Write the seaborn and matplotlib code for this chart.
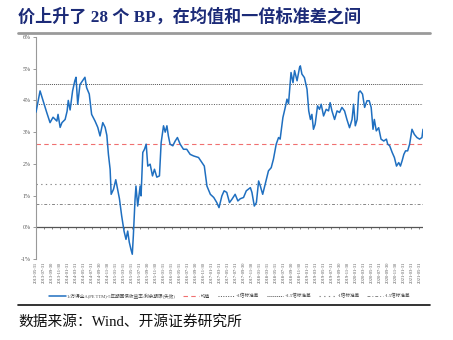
import matplotlib
matplotlib.use("Agg")
import matplotlib.pyplot as plt
import seaborn as sns
import pandas as pd

# ---------------- data ----------------
dates = [
    "2013-05-31", "2013-07-01", "2013-07-23", "2013-08-20", "2013-09-15", "2013-10-08", "2013-11-06", "2013-11-15",
    "2013-12-01", "2013-12-15", "2014-01-08", "2014-01-23", "2014-02-01", "2014-02-15", "2014-03-06", "2014-03-23",
    "2014-04-01", "2014-04-14", "2014-05-01", "2014-05-21", "2014-06-08", "2014-06-21", "2014-07-11", "2014-07-29",
    "2014-08-24", "2014-09-14", "2014-10-01", "2014-10-22", "2014-11-09", "2014-11-22", "2014-12-04", "2014-12-17",
    "2014-12-25", "2015-01-12", "2015-01-29", "2015-02-12", "2015-02-26", "2015-03-15", "2015-04-02", "2015-04-17",
    "2015-04-30", "2015-05-12", "2015-05-25", "2015-06-04", "2015-06-12", "2015-06-25", "2015-07-02", "2015-07-15",
    "2015-08-03", "2015-08-10", "2015-08-23", "2015-09-05", "2015-09-18", "2015-09-30", "2015-10-18", "2015-11-05",
    "2015-11-20", "2015-12-08", "2015-12-28", "2016-01-10", "2016-01-28", "2016-02-10", "2016-02-23", "2016-03-05",
    "2016-03-18", "2016-04-08", "2016-04-26", "2016-05-13", "2016-06-03", "2016-06-28", "2016-07-23", "2016-08-18",
    "2016-09-13", "2016-10-21", "2016-11-16", "2016-12-04", "2016-12-24", "2017-01-19", "2017-02-14", "2017-03-09",
    "2017-03-26", "2017-04-17", "2017-05-04", "2017-05-24", "2017-06-14", "2017-07-02", "2017-07-27", "2017-08-17",
    "2017-09-04", "2017-09-29", "2017-10-20", "2017-11-20", "2017-12-02", "2017-12-20", "2018-01-05", "2018-01-22",
    "2018-02-04", "2018-02-22", "2018-03-13", "2018-04-07", "2018-04-28", "2018-05-15", "2018-06-05", "2018-06-23",
    "2018-07-05", "2018-07-26", "2018-08-13", "2018-08-26", "2018-09-07", "2018-09-26", "2018-10-11", "2018-10-23",
    "2018-11-11", "2018-11-30", "2018-12-06", "2018-12-18", "2019-01-06", "2019-01-26", "2019-02-08", "2019-02-21",
    "2019-03-04", "2019-03-16", "2019-03-29", "2019-04-16", "2019-05-01", "2019-05-14", "2019-06-01", "2019-06-21",
    "2019-07-09", "2019-07-21", "2019-08-04", "2019-08-24", "2019-09-12", "2019-10-01", "2019-10-19", "2019-11-08",
    "2019-11-26", "2019-12-16", "2020-01-04", "2020-01-16", "2020-01-29", "2020-02-12", "2020-02-24", "2020-03-06",
    "2020-03-24", "2020-04-09", "2020-04-27", "2020-05-14", "2020-05-29", "2020-06-12", "2020-06-22", "2020-07-07",
    "2020-07-25", "2020-08-12", "2020-09-02", "2020-09-22", "2020-10-02", "2020-10-17", "2020-11-05", "2020-11-22",
    "2020-12-08", "2020-12-25", "2021-01-07", "2021-01-20", "2021-02-02", "2021-02-15", "2021-03-03", "2021-03-18",
    "2021-04-05", "2021-04-23", "2021-05-13", "2021-06-02", "2021-06-20", "2021-06-28",
]
erp = [
    3.63, 4.30, 4.00, 3.63, 3.30, 3.47, 3.35, 3.56,
    3.15, 3.30, 3.40, 3.66, 4.00, 3.70, 4.30, 4.62,
    4.73, 3.88, 4.50, 4.62, 4.73, 4.40, 4.20, 3.56,
    3.35, 3.15, 2.88, 3.30, 3.15, 2.90, 2.30, 1.83,
    1.04, 1.20, 1.50, 1.20, 0.90, 0.36, -0.12, -0.38,
    -0.12, -0.47, -0.70, -0.85, -0.27, 0.88, 1.30, 0.67,
    1.30, 0.99, 2.36, 2.46, 2.62, 1.93, 1.99, 1.62,
    1.83, 1.58, 1.62, 2.67, 3.20, 3.00, 3.20, 2.88,
    2.62, 2.57, 2.72, 2.83, 2.62, 2.46, 2.46, 2.30,
    2.25, 2.20, 2.04, 1.93, 1.30, 1.04, 0.94, 0.78,
    0.62, 0.99, 1.15, 1.10, 0.78, 0.88, 1.04, 0.83,
    0.90, 0.94, 1.15, 1.25, 1.10, 0.67, 0.78, 1.46,
    1.30, 1.04, 1.36, 1.78, 1.88, 2.15, 2.62, 2.83,
    2.78, 3.46, 3.78, 4.04, 3.90, 4.88, 4.56, 4.94,
    4.62, 5.04, 5.09, 4.83, 4.72, 4.35, 3.67, 3.40,
    3.56, 3.09, 3.25, 3.83, 3.72, 3.88, 3.51, 3.72,
    3.67, 3.93, 3.67, 3.40, 3.67, 3.62, 3.78, 3.67,
    3.40, 3.14, 3.40, 3.88, 3.20, 3.40, 4.25, 4.30,
    4.20, 3.78, 3.99, 3.99, 3.78, 3.09, 3.40, 3.04,
    3.14, 2.78, 2.72, 2.78, 2.62, 2.57, 2.36, 2.20,
    1.93, 2.04, 1.93, 2.10, 2.30, 2.41, 2.41, 2.62,
    3.09, 2.93, 2.83, 2.78, 2.83, 3.09,
]
mean_val = 2.62
std_val = 1.26

series_label = "1/万得全A(PE TTM)-5年期国债收益率:剩余期限(失效)"
band_labels = ["均值", "+1倍标准差", "+1.5倍标准差", "-1倍标准差", "-1.5倍标准差"]
band_mult = [0, 1, 1.5, -1, -1.5]
yticks = [-1, 0, 1, 2, 3, 4, 5, 6]

title = "价上升了 28 个 BP，在均值和一倍标准差之间"
source = "数据来源：Wind、开源证券研究所"

# ---------------- style ----------------
sns.set_theme(style="white")
plt.rcParams["font.family"] = ["Liberation Serif", "Noto Sans CJK SC", "DejaVu Sans"]
plt.rcParams["axes.unicode_minus"] = False

df = pd.DataFrame({"date": pd.to_datetime(dates), "erp": erp})

fig = plt.figure(figsize=(4.53, 3.40), dpi=100)
ax = fig.add_axes([36 / 453, 1 - 259 / 340, (423 - 36) / 453, (259 - 37) / 340])

band_styles = [
    dict(color="#f07070", linestyle=(0, (4, 3)), linewidth=0.8),
    dict(color="#555555", linestyle=(0, (1, 1.5)), linewidth=0.7),
    dict(color="#555555", linestyle=(0, (1, 1)), linewidth=0.7),
    dict(color="#888888", linestyle=(0, (1.2, 3)), linewidth=0.8),
    dict(color="#888888", linestyle=(0, (3, 2, 1, 2)), linewidth=0.7),
]

ax.axhline(0, color="#555555", linewidth=0.9, zorder=1)

sns.lineplot(data=df, x="date", y="erp", ax=ax, color="#1f6fc0", linewidth=1.1,
             label=series_label, zorder=3)
for m, lab, st in zip(band_mult, band_labels, band_styles):
    ax.axhline(mean_val + m * std_val, label=lab, zorder=2, **st)

ax.set_ylim(-1, 6)
ax.set_xlim(pd.Timestamp("2013-05-31"), pd.Timestamp("2021-06-28"))
ax.set_yticks(yticks)
ax.set_yticklabels([f"{t}%" for t in yticks])
ax.set_xlabel("")
ax.set_ylabel("")

tick_dates = pd.date_range("2013-05-31", "2021-05-31", freq="2ME")
ax.set_xticks(tick_dates)
ax.set_xticklabels([d.strftime("%Y-%m-%d") for d in tick_dates], rotation=90,
                   fontsize=3.3, color="#555555")
ax.tick_params(axis="x", length=0, pad=2)
ax.tick_params(axis="y", length=2, width=0.6, colors="#888888", labelsize=4.2,
               labelcolor="#555555", pad=2, direction="out", left=True)

for s in ["top", "right", "bottom"]:
    ax.spines[s].set_visible(False)
ax.spines["left"].set_color("#999999")
ax.spines["left"].set_linewidth(0.8)

# tick marks on the zero line
sec = ax.secondary_xaxis(1 / 7)
sec.set_xticks(tick_dates)
sec.set_xticklabels([])
sec.tick_params(axis="x", length=1.5, width=0.5, colors="#555555", direction="out")
sec.spines["bottom"].set_visible(False)

leg = ax.legend(loc="center", ncol=6, fontsize=3.3, frameon=False, handlelength=3.6,
                columnspacing=1.6, handletextpad=0.4)
for t in leg.get_texts():
    t.set_color("#444444")
leg.set_bbox_to_anchor((230 / 453, 1 - 296 / 340), transform=fig.transFigure)

# title, rules and source
fig.text(18 / 453, 1 - 17 / 340, title, fontsize=12.3, fontweight="bold", color="#1c2b78",
         va="center", ha="left", family=["Liberation Serif", "Noto Sans CJK SC"])
fig.add_artist(plt.Line2D([18 / 453, 430 / 453], [1 - 33 / 340, 1 - 33 / 340],
                          transform=fig.transFigure, color="#9a9a9a", linewidth=2))
fig.add_artist(plt.Line2D([18 / 453, 430 / 453], [1 - 305 / 340, 1 - 305 / 340],
                          transform=fig.transFigure, color="#111111", linewidth=1.2))
fig.text(18 / 453, 1 - 322 / 340, source, fontsize=10.6, color="#111111",
         va="center", ha="left", family=["Liberation Serif", "Noto Sans CJK SC"])

fig.savefig("out.png", dpi=100)
